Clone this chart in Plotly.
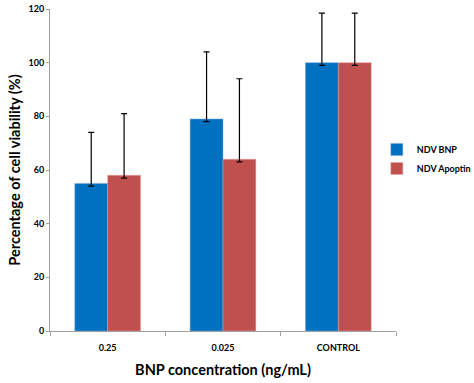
import plotly.graph_objects as go

categories = ["0.25", "0.025", "CONTROL"]
bnp_values = [55, 79, 100]
bnp_err_plus = [19, 25, 18.5]
bnp_err_minus = [1, 1, 1]
apoptin_values = [58, 64, 100]
apoptin_err_plus = [23, 30, 18.5]
apoptin_err_minus = [1, 1, 1]
y_ticks = [0, 20, 40, 60, 80, 100, 120]

FONT = "Lato"

fig = go.Figure()
fig.add_trace(go.Bar(
    name="NDV BNP", x=categories, y=bnp_values,
    marker=dict(color="#0070C0", line=dict(color="#7FA9D9", width=0.5)),
    error_y=dict(type="data", symmetric=False, array=bnp_err_plus, arrayminus=bnp_err_minus,
                 color="black", thickness=1.2, width=3),
))
fig.add_trace(go.Bar(
    name="NDV Apoptin", x=categories, y=apoptin_values,
    marker=dict(color="#C0504D", line=dict(color="#E4A3A1", width=0.5)),
    error_y=dict(type="data", symmetric=False, array=apoptin_err_plus, arrayminus=apoptin_err_minus,
                 color="black", thickness=1.2, width=3),
))

fig.update_layout(
    width=474, height=383,
    margin=dict(l=50, r=78, t=9, b=52, autoexpand=False),
    paper_bgcolor="white", plot_bgcolor="white",
    barmode="group", bargap=0.43, bargroupgap=0,
    font=dict(family=FONT, color="black"),
    showlegend=True,
    legend=dict(xref="container", yref="container", x=0.795, y=0.585,
                xanchor="left", yanchor="middle",
                font=dict(size=9, family=FONT, weight="bold"),
                itemwidth=30, tracegroupgap=2, bgcolor="rgba(0,0,0,0)"),
    xaxis=dict(
        showline=True, linecolor="#A0A0A0", linewidth=1,
        ticks="outside", tickson="boundaries", ticklen=4, tickcolor="#A0A0A0",
        tickfont=dict(size=9, family=FONT, weight="bold"), ticklabelstandoff=8,
        title=dict(text="BNP concentration (ng/mL)", font=dict(size=14.5, family=FONT, weight="bold"), standoff=13),
    ),
    yaxis=dict(
        range=[0, 120], tickvals=y_ticks,
        showline=True, linecolor="#A0A0A0", linewidth=1,
        ticks="outside", ticklen=3, tickcolor="#A0A0A0",
        showgrid=False, zeroline=False,
        tickfont=dict(size=9, family=FONT, weight="bold"),
        title=dict(text="Percentage of cell viability (%)", font=dict(size=14.5, family=FONT, weight="bold"), standoff=4),
    ),
)

fig.write_html("out.html")
